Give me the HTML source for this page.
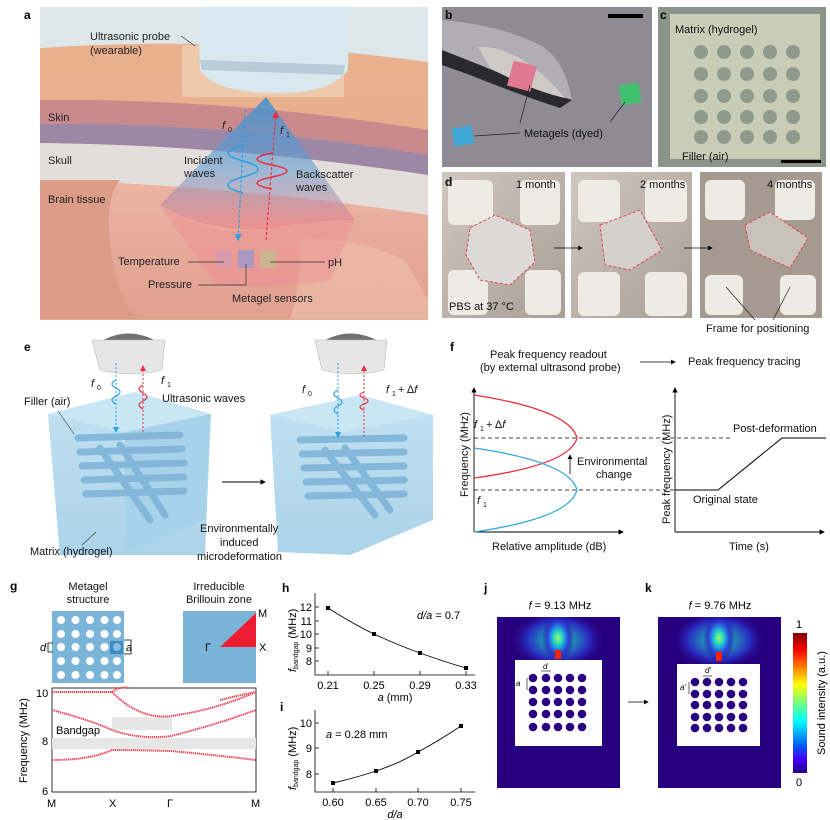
<!DOCTYPE html>
<html><head><meta charset="utf-8"><style>
html,body{margin:0;padding:0;background:#fff;}
svg{display:block;font-family:"Liberation Sans",Arial,sans-serif;}
</style></head><body>
<svg width="830" height="820" viewBox="0 0 830 820" xmlns="http://www.w3.org/2000/svg">
<defs>
<linearGradient id="skin" x1="0" y1="0" x2="0" y2="1"><stop offset="0" stop-color="#e9b08e"/><stop offset="1" stop-color="#e6ad8c"/></linearGradient>
<linearGradient id="brain" x1="0" y1="0" x2="0" y2="1"><stop offset="0" stop-color="#ecb4a4"/><stop offset="1" stop-color="#e0a08e"/></linearGradient>
<linearGradient id="cone" x1="0" y1="0" x2="0" y2="1"><stop offset="0" stop-color="#3a8fd0" stop-opacity="0.85"/><stop offset="0.55" stop-color="#6a9fd0" stop-opacity="0.6"/><stop offset="1" stop-color="#f07080" stop-opacity="0.45"/></linearGradient>
<linearGradient id="heat" x1="0" y1="0" x2="0" y2="1"><stop offset="0" stop-color="#800000"/><stop offset="0.12" stop-color="#ff0000"/><stop offset="0.37" stop-color="#ffff00"/><stop offset="0.55" stop-color="#40ffb0"/><stop offset="0.63" stop-color="#00ffff"/><stop offset="0.8" stop-color="#0060ff"/><stop offset="0.9" stop-color="#4000ff"/><stop offset="1" stop-color="#28008a"/></linearGradient>
<radialGradient id="beam" cx="0.5" cy="0.5" r="0.5"><stop offset="0" stop-color="#a0ff60"/><stop offset="0.3" stop-color="#20d0d0"/><stop offset="0.65" stop-color="#2a40e0"/><stop offset="1" stop-color="#26007e" stop-opacity="0"/></radialGradient>
<linearGradient id="cube" x1="0" y1="0" x2="0" y2="1"><stop offset="0" stop-color="#b8dcef"/><stop offset="1" stop-color="#9ccbe6"/></linearGradient>
<linearGradient id="dph" x1="0" y1="0" x2="1" y2="1"><stop offset="0" stop-color="#cfc8c0"/><stop offset="1" stop-color="#a89e94"/></linearGradient>
<clipPath id="cj"><rect x="497" y="617" width="123" height="171"/></clipPath>
<clipPath id="ck"><rect x="658" y="617" width="123" height="171"/></clipPath>
<marker id="ah" markerWidth="6" markerHeight="6" refX="5" refY="3" orient="auto"><path d="M0,0 L6,3 L0,6 z" fill="#000"/></marker>
<marker id="ahb" markerWidth="6" markerHeight="6" refX="5" refY="3" orient="auto"><path d="M0,0 L6,3 L0,6 z" fill="#2aa0e0"/></marker>
<marker id="ahr" markerWidth="6" markerHeight="6" refX="5" refY="3" orient="auto"><path d="M0,0 L6,3 L0,6 z" fill="#e83040"/></marker>
</defs>

<!-- ===== Panel a ===== -->
<text x="24" y="19" font-size="12" font-weight="bold">a</text>
<rect x="40" y="7" width="388" height="312" fill="#dde7ea"/>
<path d="M40,48 Q230,35 428,62 L428,320 L40,320 Z" fill="url(#skin)"/>
<path d="M40,100 Q230,98 428,130 L428,155 Q230,122 40,124 Z" fill="#c98a8e"/>
<path d="M40,124 Q230,122 428,155 L428,175 Q230,145 40,143 Z" fill="#9c88a6"/>
<path d="M40,143 Q230,145 428,175 L428,215 Q230,185 40,180 Z" fill="#e3dedb"/>
<path d="M40,180 Q230,185 428,215 L428,319 L40,319 Z" fill="url(#brain)"/>
<path d="M40,180 L120,180 Q105,200 110,240 Q115,300 140,319 L40,319 Z" fill="#dc9c88"/>
<path d="M300,240 Q350,235 405,260 L428,300 L428,319 L290,319 Q300,290 300,240Z" fill="#efc0ae" opacity="0.6"/>
<!-- probe -->
<rect x="182" y="45" width="162" height="52" fill="#f0d4b8" opacity="0.7"/>
<path d="M198,7 L350,7 L348,70 Q330,95 270,93 Q215,92 200,70 Z" fill="#d9e7ef"/>
<path d="M200,60 L345,65 L343,75 L202,70 Z" fill="#b9ccd8"/>
<path d="M266,97 L160,205 Q210,235 268,228 Q320,220 355,220 Z" fill="url(#cone)"/>
<path d="M160,205 Q215,240 265,228 Q330,215 355,220 L330,280 Q280,290 215,285 Z" fill="#f08090" opacity="0.35"/>
<!-- sensors -->
<rect x="216" y="250" width="16" height="18" fill="#d89ab0" opacity="0.85"/>
<rect x="238" y="250" width="16" height="18" fill="#a098c8" opacity="0.85"/>
<rect x="260" y="250" width="16" height="18" fill="#c8b890" opacity="0.9"/>
<!-- waves -->
<line x1="245" y1="110" x2="238" y2="240" stroke="#2aa0e0" stroke-width="1.2" stroke-dasharray="3,2" marker-end="url(#ahb)"/>
<line x1="266" y1="240" x2="276" y2="112" stroke="#e83040" stroke-width="1.2" stroke-dasharray="3,2" marker-end="url(#ahr)"/>
<path d="M243,145 q-30,8 0,16 q30,8 0,16 q-30,8 0,16" fill="none" stroke="#2aa0e0" stroke-width="1.5"/>
<path d="M272,153 q-30,6 0,12 q30,6 0,12 q-30,6 0,12" fill="none" stroke="#e83040" stroke-width="1.5"/>
<g font-size="11" fill="#222">
<text x="90" y="40">Ultrasonic probe</text><text x="90" y="54">(wearable)</text>
<line x1="181" y1="36" x2="195" y2="46" stroke="#333" stroke-width="0.7"/>
<text x="48" y="121">Skin</text><text x="48" y="164">Skull</text><text x="48" y="203">Brain tissue</text>
<text x="222" y="129" font-style="italic">f</text><text x="228" y="132" font-size="7">0</text>
<text x="280" y="134" font-style="italic">f</text><text x="286" y="137" font-size="7">1</text>
<text x="184" y="164">Incident</text><text x="184" y="177">waves</text>
<text x="296" y="178">Backscatter</text><text x="296" y="191">waves</text>
<text x="118" y="265">Temperature</text><line x1="188" y1="262" x2="224" y2="262" stroke="#333" stroke-width="0.7"/>
<text x="148" y="288">Pressure</text><path d="M198,285 L246,285 L246,264" fill="none" stroke="#333" stroke-width="0.7"/>
<text x="328" y="266">pH</text><line x1="270" y1="262" x2="325" y2="262" stroke="#333" stroke-width="0.7"/>
<text x="232" y="302">Metagel sensors</text>
</g>

<!-- ===== Panel b ===== -->
<rect x="442" y="7" width="210" height="160" fill="#8f8b95"/>
<path d="M442,30 L480,40 Q520,50 572,100 L560,108 Q520,95 470,75 L442,65 Z" fill="#2a2a2e"/>
<path d="M442,20 Q500,25 540,45 Q565,60 572,100 Q540,90 480,65 L442,50Z" fill="#b0aeb4"/>
<path d="M478,47 Q520,45 565,98 Q530,90 490,68 Z" fill="#cfcac8"/>
<rect x="510" y="63" width="24" height="26" fill="#e07890" transform="rotate(15 522 76)"/>
<rect x="620" y="84" width="20" height="20" fill="#40c070" transform="rotate(-10 630 94)"/>
<rect x="453" y="127" width="20" height="18" fill="#40a8d8" transform="rotate(-10 463 136)"/>
<rect x="608" y="14" width="35" height="4" fill="#000"/>
<text x="445" y="19" font-size="12" font-weight="bold">b</text>
<g font-size="11" fill="#111"><text x="524" y="137">Metagels (dyed)</text></g>
<line x1="474" y1="136" x2="520" y2="133" stroke="#222" stroke-width="0.7"/>
<line x1="520" y1="123" x2="530" y2="85" stroke="#222" stroke-width="0.7"/>
<line x1="610" y1="122" x2="625" y2="102" stroke="#222" stroke-width="0.7"/>

<!-- ===== Panel c ===== -->
<rect x="658" y="7" width="168" height="160" fill="#8a9488"/>
<rect x="670" y="14" width="150" height="145" fill="#c9cdb8"/>
<g fill="#8f9a8c">
<circle cx="701" cy="52" r="7"/><circle cx="724" cy="52" r="7"/><circle cx="747" cy="52" r="7"/><circle cx="770" cy="52" r="7"/><circle cx="793" cy="52" r="7"/>
<circle cx="701" cy="74" r="7"/><circle cx="724" cy="74" r="7"/><circle cx="747" cy="74" r="7"/><circle cx="770" cy="74" r="7"/><circle cx="793" cy="74" r="7"/>
<circle cx="701" cy="96" r="7"/><circle cx="724" cy="96" r="7"/><circle cx="747" cy="96" r="7"/><circle cx="770" cy="96" r="7"/><circle cx="793" cy="96" r="7"/>
<circle cx="701" cy="117" r="7"/><circle cx="724" cy="117" r="7"/><circle cx="747" cy="117" r="7"/><circle cx="770" cy="117" r="7"/><circle cx="793" cy="117" r="7"/>
<circle cx="701" cy="137" r="7"/><circle cx="724" cy="137" r="7"/><circle cx="747" cy="137" r="7"/><circle cx="770" cy="137" r="7"/><circle cx="793" cy="137" r="7"/>
</g>
<text x="660" y="19" font-size="12" font-weight="bold">c</text>
<rect x="781" y="160" width="40" height="3" fill="#000"/>
<g font-size="11" fill="#111"><text x="675" y="33">Matrix (hydrogel)</text><text x="682" y="160">Filler (air)</text></g>

<!-- ===== Panel d ===== -->
<g>
<rect x="442" y="172" width="123" height="146" fill="url(#dph)"/>
<rect x="571" y="172" width="121" height="146" fill="url(#dph)"/>
<rect x="700" y="172" width="122" height="146" fill="#a49a90"/>
<g fill="#eeeae4">
<rect x="448" y="180" width="45" height="45" rx="6"/><rect x="520" y="180" width="40" height="45" rx="6"/>
<rect x="448" y="270" width="40" height="45" rx="6"/><rect x="525" y="270" width="36" height="45" rx="6"/>
<rect x="578" y="180" width="42" height="42" rx="6"/><rect x="645" y="180" width="42" height="42" rx="6"/>
<rect x="578" y="272" width="42" height="44" rx="6"/><rect x="645" y="272" width="42" height="44" rx="6"/>
<rect x="705" y="180" width="40" height="40" rx="6"/><rect x="775" y="180" width="40" height="40" rx="6"/>
<rect x="705" y="275" width="38" height="40" rx="6"/><rect x="780" y="275" width="36" height="40" rx="6"/>
</g>
<path d="M470,228 L495,215 L530,230 L535,262 L510,285 L480,280 L466,255 Z" fill="#dcdad8" stroke="#e84050" stroke-dasharray="3,2"/>
<path d="M600,225 L640,210 L662,250 L630,270 L605,265 Z" fill="#d4d0cc" stroke="#e84050" stroke-dasharray="3,2"/>
<path d="M745,225 L770,212 L808,238 L790,268 L750,250 Z" fill="#c8c2ba" stroke="#e84050" stroke-dasharray="3,2"/>
<text x="445" y="186" font-size="12" font-weight="bold">d</text>
<g font-size="11" fill="#111"><text x="516" y="188">1 month</text><text x="640" y="188">2 months</text><text x="767" y="188">4 months</text>
<text x="449" y="310">PBS at 37 °C</text><text x="706" y="332">Frame for positioning</text></g>
<line x1="554" y1="248" x2="582" y2="248" stroke="#000" stroke-width="0.8" marker-end="url(#ah)"/>
<line x1="684" y1="248" x2="712" y2="248" stroke="#000" stroke-width="0.8" marker-end="url(#ah)"/>
<line x1="726" y1="287" x2="755" y2="320" stroke="#222" stroke-width="0.7"/><line x1="790" y1="287" x2="773" y2="320" stroke="#222" stroke-width="0.7"/>
</g>

<!-- ===== Panel e ===== -->
<text x="24" y="351" font-size="12" font-weight="bold">e</text>
<g>
<path d="M100,342 Q128,325 158,342 Z" fill="#707070"/>
<path d="M92,340 L165,340 L162,370 Q130,378 100,370 Z" fill="#e6e6e6" stroke="#bbb" stroke-width="0.6"/>
<path d="M322,342 Q350,325 380,342 Z" fill="#707070"/>
<path d="M315,340 L387,340 L384,370 Q352,378 322,370 Z" fill="#e6e6e6" stroke="#bbb" stroke-width="0.6"/>
<!-- left cube -->
<path d="M48,414 L135,392 L211,414 L205,555 L60,555 Z" fill="url(#cube)" opacity="0.85"/>
<path d="M48,414 L135,392 L211,414 L125,432 Z" fill="#c8e6f3"/>
<path d="M125,432 L211,414 L205,520 L125,552Z" fill="#a8d2ea"/>
<path d="M270,415 L360,395 L433,415 L433,520 L350,555 L278,552 Z" fill="url(#cube)" opacity="0.85"/>
<path d="M270,415 L360,395 L433,415 L345,432Z" fill="#c8e6f3"/>
<g stroke="#7fb4d8" stroke-width="7" stroke-linecap="round" opacity="0.9">
<line x1="78" y1="438" x2="180" y2="435"/><line x1="80" y1="452" x2="182" y2="449"/><line x1="82" y1="466" x2="184" y2="463"/><line x1="84" y1="480" x2="184" y2="477"/><line x1="86" y1="494" x2="184" y2="491"/>
<line x1="100" y1="448" x2="150" y2="520"/><line x1="120" y1="445" x2="165" y2="515"/>
<line x1="300" y1="440" x2="404" y2="438"/><line x1="302" y1="454" x2="404" y2="452"/><line x1="304" y1="468" x2="404" y2="466"/><line x1="306" y1="482" x2="404" y2="480"/><line x1="308" y1="496" x2="404" y2="494"/>
<line x1="325" y1="450" x2="375" y2="515"/><line x1="345" y1="448" x2="390" y2="510"/>
</g>
<line x1="116" y1="363" x2="116" y2="432" stroke="#2aa0e0" stroke-dasharray="2,2" marker-end="url(#ahb)"/>
<line x1="143" y1="432" x2="143" y2="366" stroke="#e83040" stroke-dasharray="2,2" marker-end="url(#ahr)"/>
<path d="M116,380 q-8,4 0,8 q8,4 0,8 q-8,4 0,8" fill="none" stroke="#2aa0e0" stroke-width="1.2"/>
<path d="M143,385 q-8,4 0,8 q8,4 0,8 q-8,4 0,8" fill="none" stroke="#e83040" stroke-width="1.2"/>
<line x1="338" y1="363" x2="338" y2="437" stroke="#2aa0e0" stroke-dasharray="2,2" marker-end="url(#ahb)"/>
<line x1="364" y1="437" x2="364" y2="366" stroke="#e83040" stroke-dasharray="2,2" marker-end="url(#ahr)"/>
<path d="M338,390 q-8,4 0,8 q8,4 0,8 q-8,4 0,8" fill="none" stroke="#2aa0e0" stroke-width="1.2"/>
<path d="M364,392 q-8,3 0,6 q8,3 0,6 q-8,3 0,6" fill="none" stroke="#e83040" stroke-width="1.2"/>
<g font-size="11" fill="#111">
<text x="91" y="387" font-style="italic">f</text><text x="97" y="390" font-size="7">0</text>
<text x="161" y="384" font-style="italic">f</text><text x="167" y="387" font-size="7">1</text>
<text x="162" y="402">Ultrasonic waves</text>
<text x="24" y="405">Filler (air)</text><line x1="58" y1="411" x2="74" y2="434" stroke="#333" stroke-width="0.6"/>
<text x="30" y="555">Matrix (hydrogel)</text><line x1="82" y1="545" x2="96" y2="532" stroke="#333" stroke-width="0.6"/>
<text x="302" y="393" font-style="italic">f</text><text x="308" y="396" font-size="7">0</text>
<text x="386" y="393" font-style="italic">f</text><text x="392" y="396" font-size="7">1</text><text x="398" y="393"> + Δ<tspan font-style="italic">f</tspan></text>
<text x="200" y="532">Environmentally</text><text x="220" y="546">induced</text><text x="197" y="560">microdeformation</text>
</g>
<line x1="222" y1="482" x2="265" y2="482" stroke="#000" stroke-width="0.9" marker-end="url(#ah)"/>
</g>

<!-- ===== Panel f ===== -->
<text x="450" y="351" font-size="12" font-weight="bold">f</text>
<g font-size="11" fill="#111">
<text x="490" y="358">Peak frequency readout</text><text x="480" y="371">(by external ultrasond probe)</text>
<text x="688" y="365">Peak frequency tracing</text>
<text x="492" y="550">Relative amplitude (dB)</text><text x="729" y="550">Time (s)</text>
<text x="474" y="428" font-style="italic">f</text><text x="480" y="431" font-size="7">1</text><text x="486" y="428"> + Δ<tspan font-style="italic">f</tspan></text>
<text x="477" y="504" font-style="italic">f</text><text x="483" y="507" font-size="7">1</text>
<text x="577" y="465">Environmental</text><text x="596" y="478">change</text>
<text x="733" y="432">Post-deformation</text><text x="693" y="503">Original state</text>
<text transform="translate(468,497) rotate(-90)">Frequency (MHz)</text>
<text transform="translate(670,524) rotate(-90)">Peak frequency (MHz)</text>
</g>
<line x1="640" y1="362" x2="675" y2="362" stroke="#000" stroke-width="0.8" marker-end="url(#ah)"/>
<line x1="474" y1="532" x2="474" y2="388" stroke="#000" stroke-width="0.9" marker-end="url(#ah)"/>
<line x1="474" y1="532" x2="623" y2="532" stroke="#000" stroke-width="0.9" marker-end="url(#ah)"/>
<line x1="675" y1="532" x2="675" y2="388" stroke="#000" stroke-width="0.9" marker-end="url(#ah)"/>
<line x1="675" y1="532" x2="824" y2="532" stroke="#000" stroke-width="0.9" marker-end="url(#ah)"/>
<line x1="474" y1="438" x2="730" y2="438" stroke="#000" stroke-width="0.8" stroke-dasharray="4,3"/>
<line x1="474" y1="490" x2="675" y2="490" stroke="#000" stroke-width="0.8" stroke-dasharray="4,3"/>
<path d="M474,395 Q570,410 577,438 Q570,465 474,478" fill="none" stroke="#e8303a" stroke-width="1.3"/>
<path d="M474,448 Q570,462 577,490 Q570,518 474,532" fill="none" stroke="#30a8e0" stroke-width="1.3"/>
<line x1="570" y1="474" x2="570" y2="455" stroke="#000" stroke-width="0.8" marker-end="url(#ah)"/>
<path d="M675,490 L718,490 L782,438 L826,438" fill="none" stroke="#000" stroke-width="1"/>

<!-- ===== Panel g ===== -->
<text x="10" y="590" font-size="12" font-weight="bold">g</text>
<g font-size="11" fill="#111" text-anchor="middle">
<text x="88" y="590">Metagel</text><text x="88" y="603">structure</text>
<text x="219" y="590">Irreducible</text><text x="219" y="603">Brillouin zone</text>
</g>
<rect x="52" y="611" width="72" height="72" fill="#7ab4d8"/>
<g fill="#fff">
<circle cx="61" cy="620" r="4"/><circle cx="75.5" cy="620" r="4"/><circle cx="90" cy="620" r="4"/><circle cx="104.5" cy="620" r="4"/><circle cx="117" cy="620" r="4"/>
<circle cx="61" cy="634" r="4"/><circle cx="75.5" cy="634" r="4"/><circle cx="90" cy="634" r="4"/><circle cx="104.5" cy="634" r="4"/><circle cx="117" cy="634" r="4"/>
<circle cx="61" cy="647" r="4"/><circle cx="75.5" cy="647" r="4"/><circle cx="90" cy="647" r="4"/><circle cx="104.5" cy="647" r="4"/>
<circle cx="61" cy="661" r="4"/><circle cx="75.5" cy="661" r="4"/><circle cx="90" cy="661" r="4"/><circle cx="104.5" cy="661" r="4"/><circle cx="117" cy="661" r="4"/>
<circle cx="61" cy="675" r="4"/><circle cx="75.5" cy="675" r="4"/><circle cx="90" cy="675" r="4"/><circle cx="104.5" cy="675" r="4"/><circle cx="117" cy="675" r="4"/>
</g>
<rect x="110" y="641" width="13" height="13" fill="#3d8cc4"/><circle cx="117" cy="647" r="4" fill="#8bbfe0"/>
<path d="M53,643 L48,643 L48,652 L53,652 M124,640 L131,640 L131,654 L124,654" fill="none" stroke="#000" stroke-width="0.8"/>
<text x="40" y="651" font-size="11" font-style="italic">d</text><text x="126" y="651" font-size="11" font-style="italic">a</text>
<rect x="183" y="611" width="73" height="72" fill="#7ab4d8"/>
<path d="M220,647 L256,613 L256,647 Z" fill="#ee1c33"/>
<g font-size="11"><text x="258" y="617">M</text><text x="259" y="651">X</text><text x="205" y="651">Γ</text></g>
<rect x="52" y="688" width="204" height="104" fill="#fff" stroke="#000" stroke-width="0.8"/>
<rect x="112" y="717" width="60" height="13" fill="#e6e6e6"/>
<rect x="52" y="738" width="204" height="11" fill="#e6e6e6"/>
<g fill="none" stroke="#e84050" stroke-width="2" stroke-dasharray="1.3,0.7">
<path d="M52,692 L112,692 Q140,720 171,716 Q215,710 256,692"/>
<path d="M112,692 Q120,686 128,688"/><path d="M220,700 Q240,695 256,692"/>
<path d="M52,710 Q90,720 112,730 Q140,740 171,736 Q215,725 256,710"/>
<path d="M52,760 Q90,760 112,750 Q140,750 171,751 Q215,755 256,760"/>
</g>
<g font-size="11"><text x="56" y="734">Bandgap</text>
<text x="36" y="697">10</text><text x="42" y="745">8</text><text x="42" y="795">6</text>
<text x="47" y="807">M</text><text x="109" y="807">X</text><text x="167" y="807">Γ</text><text x="251" y="807">M</text>
<text transform="translate(27,783) rotate(-90)">Frequency (MHz)</text></g>

<!-- ===== Panel h ===== -->
<text x="282" y="592" font-size="12" font-weight="bold">h</text>
<path d="M315,593 L315,675 L475,675" fill="none" stroke="#000" stroke-width="0.8"/>
<g stroke="#000" stroke-width="0.8"><line x1="315" y1="607" x2="319" y2="607"/><line x1="315" y1="621" x2="319" y2="621"/><line x1="315" y1="634" x2="319" y2="634"/><line x1="315" y1="648" x2="319" y2="648"/><line x1="315" y1="661" x2="319" y2="661"/>
<line x1="328" y1="675" x2="328" y2="671"/><line x1="374" y1="675" x2="374" y2="671"/><line x1="420" y1="675" x2="420" y2="671"/><line x1="466" y1="675" x2="466" y2="671"/></g>
<g font-size="11" text-anchor="end"><text x="312" y="611">12</text><text x="312" y="625">11</text><text x="312" y="638">10</text><text x="312" y="652">9</text><text x="312" y="665">8</text></g>
<g font-size="11" text-anchor="middle"><text x="328" y="689">0.21</text><text x="374" y="689">0.25</text><text x="420" y="689">0.29</text><text x="466" y="689">0.33</text>
<text x="395" y="701"><tspan font-style="italic">a</tspan> (mm)</text></g>
<text x="417" y="619" font-size="11"><tspan font-style="italic">d/a</tspan> = 0.7</text>
<path d="M328,608 Q355,625 374,634 Q400,646 420,653 Q445,662 466,668" fill="none" stroke="#000" stroke-width="0.9"/>
<g fill="#000"><rect x="326" y="606" width="4" height="4"/><rect x="372" y="632" width="4" height="4"/><rect x="418" y="651" width="4" height="4"/><rect x="464" y="666" width="4" height="4"/></g>
<text transform="translate(296,672) rotate(-90)" font-size="11"><tspan font-style="italic">f</tspan><tspan font-size="7" dy="2">bandgap</tspan><tspan dy="-2"> (MHz)</tspan></text>

<!-- ===== Panel i ===== -->
<text x="280" y="711" font-size="12" font-weight="bold">i</text>
<path d="M315,710 L315,792 L475,792" fill="none" stroke="#000" stroke-width="0.8"/>
<g stroke="#000" stroke-width="0.8"><line x1="315" y1="723" x2="319" y2="723"/><line x1="315" y1="748" x2="319" y2="748"/><line x1="315" y1="774" x2="319" y2="774"/>
<line x1="333" y1="792" x2="333" y2="788"/><line x1="376" y1="792" x2="376" y2="788"/><line x1="418" y1="792" x2="418" y2="788"/><line x1="461" y1="792" x2="461" y2="788"/></g>
<g font-size="11" text-anchor="end"><text x="312" y="727">10</text><text x="312" y="752">9</text><text x="312" y="778">8</text></g>
<g font-size="11" text-anchor="middle"><text x="333" y="806">0.60</text><text x="376" y="806">0.65</text><text x="418" y="806">0.70</text><text x="461" y="806">0.75</text>
<text x="395" y="818" font-style="italic">d/a</text></g>
<text x="326" y="738" font-size="11"><tspan font-style="italic">a</tspan> = 0.28 mm</text>
<path d="M333,783 Q355,778 376,771 Q400,763 418,752 Q440,740 461,726" fill="none" stroke="#000" stroke-width="0.9"/>
<g fill="#000"><rect x="331" y="781" width="4" height="4"/><rect x="374" y="769" width="4" height="4"/><rect x="416" y="750" width="4" height="4"/><rect x="459" y="724" width="4" height="4"/></g>
<text transform="translate(296,790) rotate(-90)" font-size="11"><tspan font-style="italic">f</tspan><tspan font-size="7" dy="2">bandgap</tspan><tspan dy="-2"> (MHz)</tspan></text>

<!-- ===== Panel j / k ===== -->
<text x="484" y="592" font-size="12" font-weight="bold">j</text>
<text x="645" y="592" font-size="12" font-weight="bold">k</text>
<g font-size="11" text-anchor="middle"><text x="560" y="609"><tspan font-style="italic">f</tspan> = 9.13 MHz</text><text x="720" y="609"><tspan font-style="italic">f</tspan> = 9.76 MHz</text></g>
<rect x="497" y="617" width="123" height="171" fill="#26007e"/>
<g clip-path="url(#cj)">
<ellipse cx="558" cy="640" rx="48" ry="30" fill="url(#beam)" opacity="0.7"/>
<ellipse cx="558" cy="638" rx="16" ry="24" fill="url(#beam)"/>
<rect x="555" y="650" width="6" height="9" fill="#ff2000"/>
</g>
<rect x="515" y="660" width="87" height="86" fill="#fff"/>
<rect x="658" y="617" width="123" height="171" fill="#26007e"/>
<g clip-path="url(#ck)">
<ellipse cx="719" cy="640" rx="48" ry="30" fill="url(#beam)" opacity="0.7"/>
<ellipse cx="719" cy="638" rx="16" ry="24" fill="url(#beam)"/>
<rect x="716" y="652" width="6" height="9" fill="#ff2000"/>
</g>
<rect x="677" y="664" width="83" height="82" fill="#fff"/>
<g fill="#2a0080">
<circle cx="533" cy="678" r="4.3"/><circle cx="546" cy="678" r="4.3"/><circle cx="558" cy="678" r="4.3"/><circle cx="570" cy="678" r="4.3"/><circle cx="582" cy="678" r="4.3"/>
<circle cx="533" cy="690" r="4.3"/><circle cx="546" cy="690" r="4.3"/><circle cx="558" cy="690" r="4.3"/><circle cx="570" cy="690" r="4.3"/><circle cx="582" cy="690" r="4.3"/>
<circle cx="533" cy="702" r="4.3"/><circle cx="546" cy="702" r="4.3"/><circle cx="558" cy="702" r="4.3"/><circle cx="570" cy="702" r="4.3"/><circle cx="582" cy="702" r="4.3"/>
<circle cx="533" cy="714" r="4.3"/><circle cx="546" cy="714" r="4.3"/><circle cx="558" cy="714" r="4.3"/><circle cx="570" cy="714" r="4.3"/><circle cx="582" cy="714" r="4.3"/>
<circle cx="533" cy="727" r="4.3"/><circle cx="546" cy="727" r="4.3"/><circle cx="558" cy="727" r="4.3"/><circle cx="570" cy="727" r="4.3"/><circle cx="582" cy="727" r="4.3"/>
<circle cx="695" cy="682" r="4.3"/><circle cx="707" cy="682" r="4.3"/><circle cx="719" cy="682" r="4.3"/><circle cx="731" cy="682" r="4.3"/><circle cx="743" cy="682" r="4.3"/>
<circle cx="695" cy="694" r="4.3"/><circle cx="707" cy="694" r="4.3"/><circle cx="719" cy="694" r="4.3"/><circle cx="731" cy="694" r="4.3"/><circle cx="743" cy="694" r="4.3"/>
<circle cx="695" cy="705" r="4.3"/><circle cx="707" cy="705" r="4.3"/><circle cx="719" cy="705" r="4.3"/><circle cx="731" cy="705" r="4.3"/><circle cx="743" cy="705" r="4.3"/>
<circle cx="695" cy="717" r="4.3"/><circle cx="707" cy="717" r="4.3"/><circle cx="719" cy="717" r="4.3"/><circle cx="731" cy="717" r="4.3"/><circle cx="743" cy="717" r="4.3"/>
<circle cx="695" cy="728" r="4.3"/><circle cx="707" cy="728" r="4.3"/><circle cx="719" cy="728" r="4.3"/><circle cx="731" cy="728" r="4.3"/><circle cx="743" cy="728" r="4.3"/>
</g>
<g font-size="8" font-style="italic"><text x="516" y="686">a</text><text x="543" y="669">d</text><text x="680" y="690">a'</text><text x="705" y="673">d'</text></g>
<line x1="527" y1="678" x2="527" y2="690" stroke="#000" stroke-width="0.6"/>
<line x1="541" y1="671" x2="551" y2="671" stroke="#000" stroke-width="0.6"/>
<line x1="689" y1="682" x2="689" y2="694" stroke="#000" stroke-width="0.6"/>
<line x1="703" y1="676" x2="712" y2="676" stroke="#000" stroke-width="0.6"/>
<line x1="628" y1="702" x2="648" y2="702" stroke="#000" stroke-width="0.8" marker-end="url(#ah)"/>
<rect x="793" y="633" width="14" height="140" fill="url(#heat)"/>
<g font-size="11"><text x="796" y="628">1</text><text x="796" y="786">0</text>
<text transform="translate(825,755) rotate(-90)">Sound intensity (a.u.)</text></g>
</svg>
</body></html>
